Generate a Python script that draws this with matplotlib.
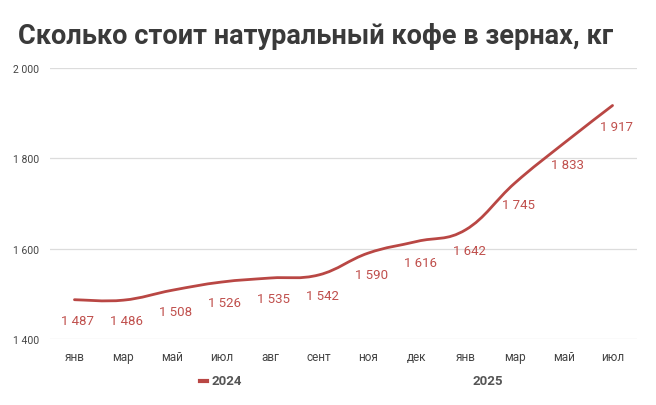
import numpy as np
import matplotlib
matplotlib.use("Agg")
import matplotlib.pyplot as plt
from matplotlib.path import Path
from matplotlib.patches import PathPatch
from matplotlib.lines import Line2D

plt.rcParams['font.family'] = ['Roboto', 'DejaVu Sans']

# data
months = ['янв', 'мар', 'май', 'июл', 'авг', 'сент', 'ноя', 'дек',
          'янв', 'мар', 'май', 'июл']
prices = [1487, 1486, 1508, 1526, 1535, 1542, 1590, 1616, 1642, 1745, 1833, 1917]
yticks = [1400, 1600, 1800, 2000]
years = ['2024', '2025']

line_col = '#b94744'
label_col = '#c0504d'
text_col = '#444444'


def fmt(v):
    return f'{v:,}'.replace(',', ' ')


def smooth_path(x, y, t=0.2):
    # cubic bezier through the points (catmull-rom style control points)
    verts = [(x[0], y[0])]
    codes = [Path.MOVETO]
    n = len(x)
    for i in range(n - 1):
        x0, y0 = x[max(i - 1, 0)], y[max(i - 1, 0)]
        x1, y1 = x[i], y[i]
        x2, y2 = x[i + 1], y[i + 1]
        x3, y3 = x[min(i + 2, n - 1)], y[min(i + 2, n - 1)]
        c1 = (x1 + (x2 - x0) * t, y1 + (y2 - y0) * t)
        c2 = (x2 - (x3 - x1) * t, y2 - (y3 - y1) * t)
        verts += [c1, c2, (x2, y2)]
        codes += [Path.CURVE4] * 3
    return Path(verts, codes)


fig = plt.figure(figsize=(6.56, 4.06), dpi=100)
ax = fig.add_axes([50 / 656, 1 - 340 / 406, 587 / 656, 271 / 406])

xs = np.arange(len(months))
ax.add_patch(PathPatch(smooth_path(xs, prices, 0.2), fill=False,
                       edgecolor=line_col, lw=2.0, capstyle='round'))
# invisible line so autoscale knows the data
ax.plot(xs, prices, alpha=0)

for x, v in zip(xs, prices):
    ax.annotate(fmt(v), (x, v), xytext=(2.5, -15), textcoords='offset points',
                ha='center', va='center', fontsize=9.5, color=label_col)

ax.set_xlim(-0.5, len(months) - 0.5)
ax.set_ylim(1400, 2000)
ax.set_yticks(yticks)
ax.set_yticklabels([fmt(v) for v in yticks], fontsize=7.5, color=text_col)
ax.set_xticks(xs)
ax.set_xticklabels(months, fontsize=8.5, color=text_col)
ax.tick_params(axis='x', length=0, pad=8)
ax.tick_params(axis='y', length=0, pad=8)
ax.grid(axis='y', color='#dcdcdc', lw=0.9)
ax.set_axisbelow(True)
for s in ax.spines.values():
    s.set_visible(False)

fig.text(18 / 656, 1 - 36 / 406, 'Сколько стоит натуральный кофе в зернах, кг',
         fontsize=19.5, fontweight='bold', color='#3a3a3a', va='center', ha='left')

# legend / year row
fig.add_artist(Line2D([200 / 656, 207 / 656], [1 - 382 / 406] * 2,
                      color=line_col, lw=3, transform=fig.transFigure))
fig.text(212 / 656, 1 - 382 / 406, years[0], fontsize=9.5, fontweight='bold',
         color='#555555', va='center', ha='left')
fig.text(488 / 656, 1 - 382 / 406, years[1], fontsize=9.5, fontweight='bold',
         color='#555555', va='center', ha='center')

fig.savefig('out.png', dpi=100, facecolor='white')
